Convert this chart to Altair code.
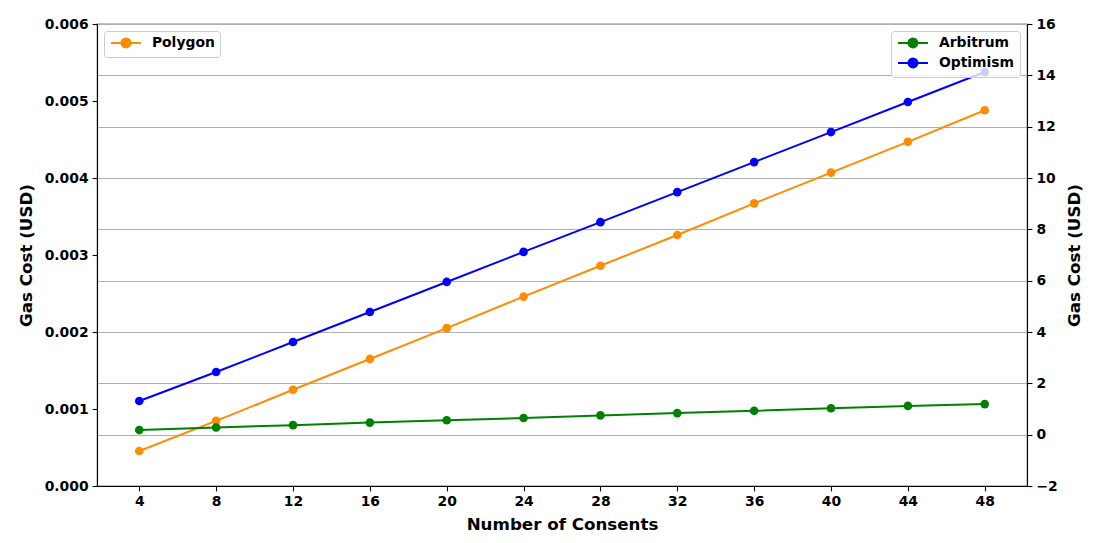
import altair as alt
import pandas as pd

consents = [4, 8, 12, 16, 20, 24, 28, 32, 36, 40, 44, 48]
polygon = [0.000455, 0.000845, 0.00125, 0.00165, 0.00205, 0.00246,
           0.00286, 0.00326, 0.00367, 0.00407, 0.00447, 0.00488]
arbitrum = [0.18, 0.28, 0.37, 0.47, 0.56, 0.65, 0.75, 0.84, 0.93, 1.03, 1.12, 1.19]
optimism = [1.31, 2.44, 3.61, 4.78, 5.95, 7.12, 8.28, 9.45, 10.62, 11.79, 12.96, 14.13]

left_ticks = [0, 0.001, 0.002, 0.003, 0.004, 0.005, 0.006]
right_ticks = [-2, 0, 2, 4, 6, 8, 10, 12, 14, 16]

left_df = pd.DataFrame({"consents": consents, "cost": polygon, "series": "Polygon"})
right_df = pd.concat([
    pd.DataFrame({"consents": consents, "cost": arbitrum, "series": "Arbitrum"}),
    pd.DataFrame({"consents": consents, "cost": optimism, "series": "Optimism"}),
])

FONT = "DejaVu Sans"
SYM = "M-1,0L5,0M1.1,0A0.9,0.9,0,1,1,2.9,0A0.9,0.9,0,1,1,1.1,0Z"


def legend(orient):
    return alt.Legend(
        title=None, orient=orient, offset=7, symbolType=SYM, symbolSize=100,
        symbolStrokeWidth=2, labelFont=FONT, labelFontWeight="bold",
        labelFontSize=13.9, labelColor="black", labelOffset=29,
        fillColor="rgba(255,255,255,0.8)", strokeColor="#cccccc",
        cornerRadius=3, padding=5, rowPadding=2,
    )


x_enc = alt.X(
    "consents:Q",
    scale=alt.Scale(domain=[1.8, 50.2], nice=False, zero=False),
    axis=alt.Axis(values=consents, title="Number of Consents", grid=False, titlePadding=8),
)

left_y = alt.Y(
    "cost:Q",
    scale=alt.Scale(domain=[0, 0.006], nice=False, zero=False),
    axis=alt.Axis(values=left_ticks, format=".3f", title="Gas Cost (USD)", grid=False,
                  orient="left", titlePadding=9),
)
right_y = alt.Y(
    "cost:Q",
    scale=alt.Scale(domain=[-2, 16], nice=False, zero=False),
    axis=alt.Axis(values=right_ticks, title="Gas Cost (USD)", grid=True,
                  orient="right", titlePadding=9, titleAngle=270, titleBaseline="top"),
)

poly_scale = alt.Scale(domain=["Polygon"], range=["#ff8c00"])
right_scale = alt.Scale(domain=["Arbitrum", "Optimism"], range=["#008000", "#0000ff"])

left_base = alt.Chart(left_df)
left_line = left_base.mark_line(strokeWidth=2).encode(
    x=x_enc, y=left_y,
    stroke=alt.Stroke("series:N", scale=poly_scale, legend=legend("top-left")),
)
left_pts = left_base.mark_point(filled=True, size=75, opacity=1, strokeWidth=0).encode(
    x=x_enc, y=left_y,
    fill=alt.Fill("series:N", scale=poly_scale, legend=legend("top-left")),
    stroke=alt.Stroke("series:N", scale=poly_scale, legend=legend("top-left")),
)

right_base = alt.Chart(right_df)
right_line = right_base.mark_line(strokeWidth=2).encode(
    x=x_enc, y=right_y,
    stroke=alt.Stroke("series:N", scale=right_scale, legend=legend("top-right")),
)
right_pts = right_base.mark_point(filled=True, size=75, opacity=1, strokeWidth=0).encode(
    x=x_enc, y=right_y,
    fill=alt.Fill("series:N", scale=right_scale, legend=legend("top-right")),
    stroke=alt.Stroke("series:N", scale=right_scale, legend=legend("top-right")),
)

left = alt.layer(left_line, left_pts)
right = alt.layer(right_line, right_pts)

chart = alt.layer(left, right).resolve_scale(
    y="independent", fill="independent", stroke="independent"
).resolve_legend(fill="independent", stroke="independent").properties(
    width=930, height=462,
    padding={"left": 10, "top": 9, "right": 5, "bottom": 5},
).configure_axis(
    labelFont=FONT, labelFontSize=13.9, labelFontWeight="bold", labelColor="black",
    titleFont=FONT, titleFontSize=16.7, titleFontWeight="bold", titleColor="black",
    tickColor="black", tickSize=4.9, tickWidth=1.1, domainColor="black", domainWidth=1.1,
    labelPadding=4, labelFlush=False, labelOverlap=False,
    gridColor="#b0b0b0", gridWidth=1.1,
).configure_view(stroke="black", strokeWidth=1.1)

chart.save("out.html", embed_options={"renderer": "svg", "actions": False})
